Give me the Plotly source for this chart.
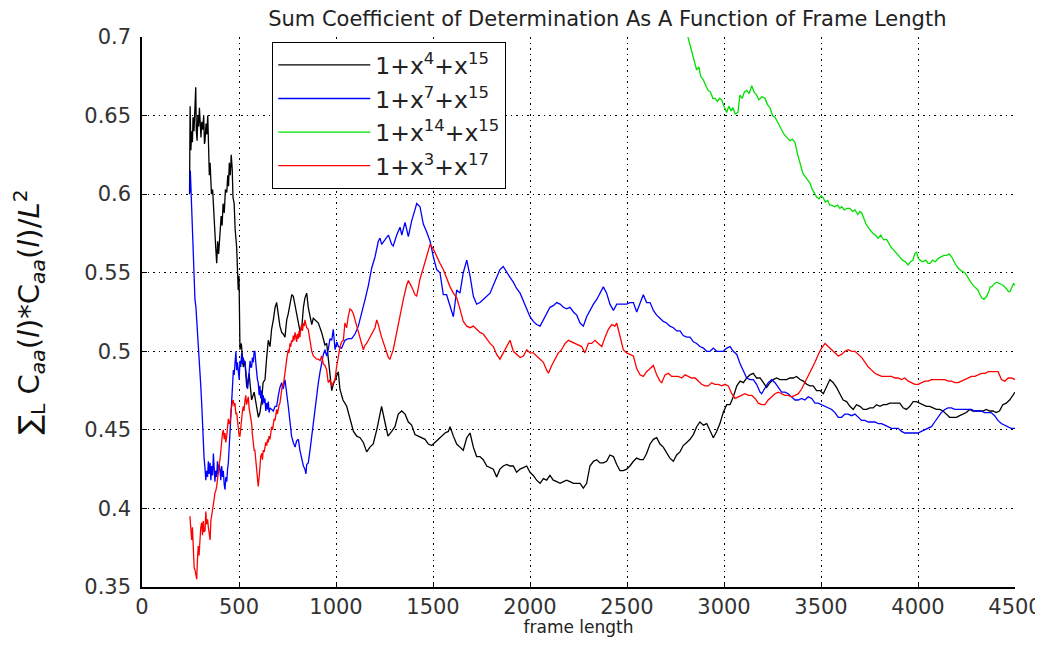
import plotly.graph_objects as go

# (frame length, sum coefficient)
black = [(245,.600),(248,.656),(252,.628),(256,.640),(260,.633),(263,.649),(268,.640),(272,.655),(277,.668),(280,.640),
    (284,.634),(288,.650),(292,.643),(296,.655),(299,.649),(304,.636),(308,.646),(313,.641),(318,.650),(322,.632),
    (325,.634),(330,.645),(334,.638),(339,.650),(344,.628),(347,.612),(351,.620),(358,.600),(364,.603),(368,.592),
    (372,.583),(376,.577),(380,.566),(385,.556),(390,.570),(395,.562),(402,.573),(408,.586),(413,.580),(418,.594),
    (424,.588),(430,.603),(437,.601),(442,.612),(446,.605),(450,.620),(455,.612),(460,.625),(465,.616),(469,.598),
    (475,.594),(480,.578),(488,.566),(492,.552),(496,.539),(500,.548),(503,.520),(505,.501),(512,.505),(522,.490),
    (530,.494),(540,.477),(552,.486),(565,.469),(578,.474),(591,.465),(600,.458),(608,.461),(617,.469),(624,.480),
    (634,.482),(642,.495),(651,.507),(660,.503),(668,.514),(677,.520),(686,.528),(694,.531),(702,.522),(711,.516),
    (720,.512),(728,.511),(737,.509),(746,.520),(754,.524),(763,.531),(772,.536),(780,.535),(789,.529),(797,.526),
    (806,.519),(814,.513),(823,.514),(832,.528),(840,.534),(849,.537),(857,.528),(866,.522),(875,.517),(883,.521),
    (892,.520),(909,.518),(926,.512),(943,.504),(952,.505),(960,.496),(969,.487),(978,.475),(986,.479),(1004,.484),
    (1012,.487),(1020,.476),(1036,.469),(1055,.465),(1072,.457),(1090,.449),(1107,.446),(1124,.445),(1141,.442),(1158,.436),
    (1175,.439),(1192,.441),(1210,.450),(1227,.460),(1235,.465),(1252,.455),(1268,.446),(1287,.449),(1304,.452),(1321,.460),
    (1339,.462),(1356,.460),(1373,.455),(1390,.453),(1407,.447),(1424,.446),(1441,.445),(1459,.444),(1476,.441),(1493,.440),
    (1510,.442),(1527,.444),(1545,.446),(1562,.448),(1579,.449),(1588,.452),(1605,.446),(1622,.441),(1639,.439),(1656,.437),
    (1674,.445),(1691,.448),(1708,.439),(1725,.433),(1742,.433),(1759,.431),(1777,.427),(1794,.426),(1811,.425),(1828,.420),
    (1845,.425),(1862,.427),(1880,.428),(1897,.427),(1914,.427),(1931,.423),(1949,.425),(1966,.426),(1983,.427),(2000,.423),
    (2017,.421),(2034,.418),(2052,.416),(2069,.419),(2086,.418),(2103,.421),(2120,.418),(2138,.417),(2155,.416),(2172,.417),
    (2189,.418),(2206,.417),(2224,.416),(2241,.416),(2258,.416),(2275,.413),(2292,.416),(2309,.427),(2327,.430),(2344,.431),
    (2361,.429),(2378,.429),(2395,.430),(2412,.434),(2430,.433),(2447,.428),(2464,.424),(2481,.424),(2498,.425),(2515,.427),
    (2533,.430),(2550,.432),(2567,.431),(2584,.431),(2601,.435),(2619,.441),(2636,.444),(2653,.445),(2670,.441),(2687,.439),
    (2704,.435),(2721,.432),(2739,.430),(2756,.434),(2773,.436),(2790,.440),(2808,.442),(2825,.444),(2842,.447),(2859,.452),
    (2876,.455),(2894,.453),(2911,.454),(2928,.449),(2945,.445),(2962,.449),(2979,.454),(2996,.461),(3014,.466),(3031,.466),
    (3048,.471),(3066,.478),(3083,.481),(3100,.480),(3117,.483),(3134,.485),(3151,.486),(3168,.483),(3186,.483),(3203,.480),
    (3220,.477),(3237,.480),(3254,.482),(3271,.483),(3288,.482),(3305,.482),(3323,.482),(3340,.483),(3357,.483),(3374,.484),
    (3392,.482),(3409,.481),(3426,.479),(3443,.478),(3460,.478),(3477,.475),(3495,.475),(3512,.473),(3529,.477),(3546,.482),
    (3563,.480),(3580,.477),(3597,.473),(3614,.469),(3632,.468),(3649,.465),(3666,.463),(3683,.466),(3701,.465),(3718,.463),
    (3735,.463),(3752,.464),(3769,.464),(3786,.466),(3804,.465),(3821,.466),(3838,.466),(3855,.467),(3872,.467),(3889,.467),
    (3906,.467),(3923,.464),(3940,.463),(3958,.465),(3975,.468),(3992,.468),(4009,.467),(4026,.466),(4043,.465),(4060,.465),
    (4078,.464),(4095,.463),(4112,.463),(4129,.462),(4146,.460),(4163,.458),(4180,.458),(4198,.458),(4215,.459),(4232,.460),
    (4249,.461),(4266,.463),(4283,.462),(4300,.462),(4318,.462),(4335,.462),(4352,.463),(4369,.462),(4386,.462),(4403,.461),
    (4420,.462),(4437,.466),(4455,.467),(4472,.469),(4489,.472),(4500,.474)]

blue = [(247,.601),(249,.615),(252,.605),(256,.590),(260,.582),(265,.570),(269,.552),(273,.533),(278,.528),(282,.520),
    (286,.515),(290,.510),(294,.497),(299,.486),(303,.478),(308,.466),(312,.452),(316,.443),(320,.432),(325,.425),
    (329,.418),(333,.424),(338,.420),(342,.430),(346,.422),(351,.429),(355,.418),(359,.427),(364,.421),(368,.435),
    (372,.428),(376,.417),(380,.424),(385,.420),(389,.430),(393,.422),(398,.428),(402,.425),(406,.418),(411,.427),
    (415,.420),(419,.424),(424,.415),(428,.412),(432,.420),(437,.417),(441,.425),(445,.429),(450,.440),(454,.450),
    (458,.458),(462,.463),(467,.478),(471,.488),(475,.485),(479,.495),(484,.500),(488,.488),(492,.493),(496,.488),
    (501,.482),(505,.494),(509,.490),(514,.499),(518,.492),(522,.496),(526,.493),(531,.493),(535,.486),(539,.484),
    (544,.476),(548,.480),(552,.488),(557,.494),(561,.490),(565,.490),(569,.496),(574,.493),(578,.500),(582,.500),
    (587,.492),(591,.485),(595,.482),(599,.480),(604,.472),(608,.478),(612,.470),(617,.475),(621,.466),(625,.472),
    (630,.467),(634,.470),(638,.462),(643,.467),(647,.463),(651,.468),(655,.461),(660,.464),(668,.463),(677,.462),
    (686,.465),(694,.465),(703,.472),(711,.477),(720,.480),(728,.476),(737,.482),(746,.474),(754,.465),(763,.455),
    (771,.446),(780,.442),(789,.439),(797,.443),(806,.444),(814,.437),(823,.431),(832,.427),(840,.425),(845,.422),
    (849,.428),(857,.429),(866,.437),(875,.446),(883,.455),(892,.465),(900,.472),(909,.480),(918,.487),(926,.493),
    (935,.498),(943,.501),(952,.497),(960,.501),(969,.508),(978,.507),(986,.514),(995,.501),(1004,.506),(1012,.503),
    (1029,.502),(1046,.507),(1064,.508),(1081,.508),(1098,.511),(1115,.516),(1133,.524),(1150,.533),(1167,.542),(1184,.553),
    (1201,.560),(1218,.570),(1227,.572),(1235,.568),(1253,.571),(1270,.574),(1287,.568),(1295,.567),(1313,.574),(1330,.579),
    (1339,.574),(1356,.582),(1373,.573),(1390,.583),(1407,.590),(1416,.594),(1433,.592),(1450,.581),(1467,.576),(1485,.570),
    (1502,.560),(1519,.552),(1536,.550),(1553,.536),(1570,.536),(1588,.528),(1605,.522),(1622,.539),(1639,.537),(1656,.550),
    (1674,.558),(1691,.548),(1708,.535),(1725,.530),(1742,.531),(1759,.533),(1777,.535),(1794,.537),(1811,.542),(1828,.547),
    (1845,.552),(1862,.554),(1880,.550),(1897,.547),(1914,.544),(1931,.540),(1949,.537),(1966,.532),(1983,.527),(2000,.522),
    (2017,.519),(2034,.517),(2052,.516),(2069,.520),(2086,.524),(2103,.528),(2120,.529),(2138,.531),(2155,.530),(2172,.528),
    (2189,.527),(2206,.528),(2224,.525),(2241,.523),(2258,.518),(2275,.516),(2292,.522),(2309,.526),(2327,.530),(2344,.533),
    (2361,.537),(2378,.541),(2395,.537),(2412,.530),(2430,.526),(2447,.530),(2464,.530),(2481,.530),(2498,.530),(2515,.531),
    (2533,.531),(2550,.525),(2567,.531),(2584,.536),(2601,.531),(2619,.531),(2636,.526),(2653,.523),(2670,.521),(2687,.519),
    (2704,.518),(2721,.516),(2739,.515),(2756,.513),(2773,.513),(2790,.510),(2808,.509),(2825,.509),(2842,.506),(2859,.505),
    (2876,.503),(2894,.502),(2911,.500),(2928,.500),(2945,.502),(2962,.500),(2979,.500),(2996,.500),(3014,.502),(3031,.503),
    (3048,.500),(3066,.498),(3083,.492),(3100,.488),(3117,.483),(3134,.482),(3151,.482),(3168,.479),(3186,.474),(3194,.473),
    (3211,.477),(3228,.480),(3246,.482),(3263,.480),(3280,.477),(3297,.474),(3314,.474),(3331,.473),(3348,.471),(3366,.469),
    (3383,.469),(3400,.470),(3417,.469),(3434,.471),(3452,.470),(3469,.467),(3486,.467),(3503,.466),(3521,.465),(3538,.464),
    (3555,.463),(3572,.461),(3589,.458),(3606,.458),(3623,.460),(3640,.460),(3657,.459),(3675,.460),(3692,.458),(3709,.456),
    (3726,.456),(3744,.455),(3761,.455),(3778,.455),(3795,.454),(3812,.454),(3829,.453),(3846,.452),(3863,.451),(3881,.451),
    (3898,.451),(3915,.449),(3932,.448),(3949,.448),(3966,.448),(3983,.448),(4000,.448),(4017,.449),(4035,.450),(4052,.451),
    (4069,.452),(4086,.455),(4103,.458),(4120,.461),(4138,.463),(4155,.464),(4172,.464),(4189,.463),(4206,.463),(4223,.463),
    (4240,.463),(4258,.463),(4275,.463),(4292,.462),(4309,.462),(4326,.462),(4343,.461),(4360,.461),(4377,.461),(4395,.459),
    (4412,.456),(4429,.454),(4446,.453),(4463,.452),(4480,.451),(4500,.451)]

green = [(2814,.700),(2830,.693),(2845,.686),(2859,.679),(2870,.681),(2880,.675),(2892,.673),(2905,.670),(2918,.666),(2930,.665),
    (2943,.661),(2954,.661),(2966,.659),(2977,.661),(2988,.660),(3000,.656),(3014,.652),(3025,.656),(3036,.653),(3046,.655),
    (3058,.651),(3072,.652),(3082,.663),(3094,.661),(3105,.665),(3117,.666),(3130,.664),(3143,.669),(3155,.665),(3168,.663),
    (3180,.660),(3195,.662),(3211,.661),(3224,.657),(3237,.655),(3250,.650),(3263,.649),(3280,.645),(3297,.641),(3310,.638),
    (3325,.636),(3340,.634),(3352,.635),(3366,.633),(3380,.625),(3394,.619),(3407,.613),(3420,.611),(3432,.609),(3443,.607),
    (3455,.603),(3467,.600),(3478,.598),(3490,.597),(3500,.599),(3510,.598),(3522,.595),(3535,.596),(3545,.593),(3555,.593),
    (3570,.592),(3585,.593),(3597,.591),(3607,.592),(3620,.590),(3635,.591),(3649,.591),(3662,.589),(3675,.590),(3690,.587),
    (3700,.589),(3710,.588),(3722,.584),(3732,.581),(3742,.579),(3755,.577),(3768,.575),(3780,.574),(3794,.572),(3808,.574),
    (3822,.571),(3839,.571),(3852,.568),(3862,.566),(3871,.565),(3885,.563),(3897,.561),(3907,.560),(3920,.558),(3935,.557),
    (3949,.555),(3962,.557),(3974,.558),(3983,.562),(3993,.563),(4002,.559),(4010,.558),(4025,.557),(4040,.558),(4052,.556),
    (4062,.556),(4075,.558),(4090,.557),(4103,.559),(4118,.560),(4133,.561),(4148,.561),(4160,.562),(4174,.560),(4190,.556),
    (4207,.553),(4225,.551),(4242,.550),(4260,.546),(4277,.543),(4292,.541),(4309,.539),(4320,.536),(4328,.534),(4340,.533),
    (4354,.535),(4365,.538),(4372,.541),(4380,.541),(4393,.543),(4406,.544),(4420,.543),(4438,.542),(4455,.540),(4466,.538),
    (4474,.538),(4485,.541),(4492,.543),(4500,.542)]

red = [(247,.395),(252,.386),(256,.380),(260,.388),(265,.370),(269,.362),(273,.361),(278,.358),(282,.355),(286,.368),
    (290,.376),(294,.370),(299,.383),(303,.388),(308,.391),(312,.383),(316,.392),(320,.385),(325,.386),(329,.398),
    (333,.390),(338,.393),(342,.388),(346,.382),(351,.380),(355,.392),(359,.395),(364,.398),(368,.403),(372,.406),
    (376,.410),(380,.411),(385,.414),(389,.420),(393,.425),(398,.428),(402,.431),(406,.437),(411,.440),(415,.448),
    (419,.450),(424,.444),(428,.448),(432,.442),(437,.446),(441,.452),(445,.457),(450,.454),(454,.454),(458,.462),
    (462,.466),(467,.468),(471,.469),(475,.465),(479,.467),(484,.460),(488,.461),(492,.455),(496,.452),(501,.446),
    (505,.446),(509,.452),(514,.457),(518,.462),(522,.465),(526,.462),(531,.469),(535,.472),(539,.466),(544,.470),
    (548,.471),(552,.464),(557,.460),(561,.456),(565,.454),(569,.447),(574,.443),(578,.437),(582,.437),(587,.430),
    (591,.425),(595,.419),(599,.414),(604,.420),(608,.428),(612,.433),(617,.435),(621,.431),(625,.437),(630,.436),
    (634,.439),(638,.442),(643,.440),(647,.444),(651,.442),(655,.446),(660,.444),(664,.449),(668,.452),(673,.450),
    (677,.455),(681,.457),(686,.456),(690,.461),(694,.463),(698,.460),(703,.465),(707,.466),(711,.467),(716,.472),
    (720,.475),(724,.479),(728,.478),(733,.482),(737,.484),(741,.490),(746,.495),(750,.498),(754,.501),(758,.499),
    (763,.505),(767,.503),(771,.507),(776,.506),(780,.510),(784,.507),(789,.512),(793,.509),(797,.506),(801,.511),
    (806,.508),(810,.513),(814,.509),(819,.515),(823,.517),(827,.513),(832,.518),(836,.516),(840,.520),(845,.517),
    (849,.515),(857,.514),(866,.506),(875,.500),(883,.497),(892,.496),(900,.495),(909,.495),(918,.494),(926,.497),
    (935,.492),(943,.491),(952,.488),(960,.480),(969,.482),(978,.478),(986,.480),(995,.482),(1003,.490),(1012,.497),
    (1021,.503),(1029,.506),(1038,.507),(1046,.518),(1055,.515),(1063,.522),(1072,.527),(1081,.526),(1089,.524),(1098,.520),
    (1107,.516),(1115,.511),(1124,.507),(1133,.503),(1141,.501),(1150,.504),(1158,.505),(1167,.507),(1184,.511),(1201,.515),
    (1210,.520),(1218,.517),(1235,.509),(1252,.502),(1270,.496),(1278,.495),(1295,.501),(1313,.512),(1330,.523),(1347,.533),
    (1364,.542),(1373,.545),(1390,.541),(1407,.536),(1416,.535),(1433,.546),(1450,.553),(1467,.560),(1485,.568),(1502,.565),
    (1519,.560),(1536,.556),(1553,.552),(1570,.546),(1588,.541),(1605,.537),(1622,.534),(1639,.527),(1656,.519),(1674,.516),
    (1691,.515),(1708,.516),(1725,.514),(1742,.512),(1759,.511),(1777,.508),(1794,.505),(1811,.503),(1828,.498),(1845,.495),
    (1862,.499),(1880,.503),(1897,.507),(1914,.500),(1931,.498),(1949,.496),(1966,.497),(1983,.501),(2000,.499),(2017,.499),
    (2034,.497),(2052,.495),(2069,.493),(2086,.488),(2095,.486),(2112,.491),(2129,.495),(2146,.499),(2163,.501),(2181,.505),
    (2198,.507),(2215,.506),(2232,.505),(2250,.504),(2266,.503),(2283,.499),(2301,.505),(2318,.505),(2335,.507),(2352,.505),
    (2370,.503),(2387,.509),(2404,.514),(2421,.517),(2438,.516),(2447,.518),(2464,.509),(2481,.501),(2498,.499),(2515,.498),
    (2533,.497),(2550,.489),(2567,.485),(2584,.484),(2601,.487),(2619,.489),(2636,.491),(2653,.485),(2670,.481),(2679,.480),
    (2696,.485),(2713,.486),(2730,.484),(2747,.484),(2764,.484),(2782,.483),(2799,.485),(2816,.484),(2833,.483),(2851,.483),
    (2868,.481),(2885,.479),(2902,.478),(2919,.478),(2936,.480),(2953,.479),(2971,.479),(2988,.478),(3005,.479),(3022,.478),
    (3040,.473),(3057,.470),(3074,.471),(3091,.472),(3108,.473),(3126,.472),(3143,.472),(3160,.470),(3177,.467),(3194,.466),
    (3211,.466),(3228,.469),(3246,.471),(3263,.473),(3280,.474),(3297,.473),(3314,.472),(3331,.472),(3348,.471),(3366,.472),
    (3383,.473),(3400,.476),(3417,.480),(3434,.484),(3452,.489),(3469,.493),(3486,.498),(3503,.502),(3521,.505),(3538,.503),
    (3555,.501),(3572,.499),(3589,.497),(3606,.498),(3623,.500),(3640,.501),(3658,.500),(3675,.500),(3692,.498),(3710,.496),
    (3727,.493),(3744,.490),(3761,.488),(3778,.486),(3795,.485),(3813,.484),(3830,.484),(3847,.484),(3864,.484),(3881,.483),
    (3898,.483),(3915,.482),(3932,.483),(3950,.481),(3967,.480),(3984,.479),(4001,.479),(4018,.480),(4035,.481),(4053,.481),
    (4070,.482),(4087,.482),(4104,.482),(4121,.482),(4138,.482),(4156,.481),(4173,.481),(4190,.480),(4207,.480),(4224,.481),
    (4242,.482),(4259,.483),(4276,.484),(4293,.484),(4310,.485),(4327,.486),(4345,.486),(4362,.487),(4379,.487),(4396,.487),
    (4413,.487),(4430,.482),(4447,.481),(4465,.483),(4482,.483),(4500,.482)]

names = ["1+x<sup>4</sup>+x<sup>15</sup>", "1+x<sup>7</sup>+x<sup>15</sup>",
         "1+x<sup>14</sup>+x<sup>15</sup>", "1+x<sup>3</sup>+x<sup>17</sup>"]
series = [black, blue, green, red]
colors = ["#000000", "#0000ff", "#00e000", "#ff0000"]

x_ticks = [0, 500, 1000, 1500, 2000, 2500, 3000, 3500, 4000, 4500]
y_ticks = [0.35, 0.4, 0.45, 0.5, 0.55, 0.6, 0.65, 0.7]
y_labels = ["0.35", "0.4", "0.45", "0.5", "0.55", "0.6", "0.65", "0.7"]

fig = go.Figure()
for pts, name, col in zip(series, names, colors):
    xs, ys = zip(*pts)
    fig.add_trace(go.Scatter(x=xs, y=ys, mode="lines", name=name,
                             line=dict(color=col, width=1.3)))

# page body adds an 8px margin, so the figure sits 8px right/down in the window
font = "DejaVu Sans, Arial, sans-serif"
fig.update_layout(
    width=1035, height=629,
    margin=dict(l=134, r=28, t=29, b=50),
    paper_bgcolor="white", plot_bgcolor="white",
    font=dict(family=font, size=21, color="#333333"),
    title=dict(text="Sum Coefficient of Determination As A Function of Frame Length",
               x=0.533, y=0.994, xref="paper", yref="container", xanchor="center", yanchor="top",
               pad=dict(t=0), font=dict(size=21, color="#222222")),
    legend=dict(x=0.149, y=0.991, xanchor="left", yanchor="top",
                bgcolor="white", bordercolor="black", borderwidth=1.2,
                font=dict(size=23.5, color="#222222"), itemwidth=92,
                tracegroupgap=0),
)
fig.update_xaxes(range=[0, 4500], tickvals=x_ticks, automargin=False,
                 showline=True, linecolor="black", linewidth=1.5, ticks="inside", ticklen=5,
                 tickcolor="black", ticklabelstandoff=0,
                 showgrid=True, gridcolor="black", griddash="1.5px,4px", gridwidth=1.2, zeroline=False,
                 title=dict(text="frame length", font=dict(size=17, color="#222222"), standoff=9))
fig.update_yaxes(range=[0.35, 0.7], tickvals=y_ticks, ticktext=y_labels, automargin=False,
                 showline=True, linecolor="black", linewidth=1.5, ticks="inside", ticklen=5,
                 tickcolor="black", ticklabelstandoff=5,
                 showgrid=True, gridcolor="black", griddash="1.5px,4px", gridwidth=1.2, zeroline=False,
                 title=dict(text="\u2211<sub>L</sub> C<sub><i>aa</i></sub>(<i>l</i>)*C<sub><i>aa</i></sub>(<i>l</i>)/<i>L</i><sup>2</sup>",
                            font=dict(size=29, color="#111111"), standoff=40))

fig.write_html("out.html")
